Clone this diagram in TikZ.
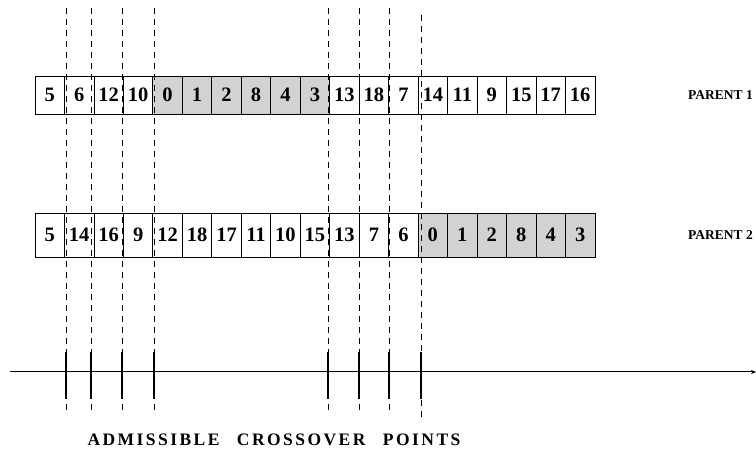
\documentclass[tikz,border=0pt]{standalone}
\usepackage{fontspec}
\setmainfont{Liberation Serif}
\newfontfamily\capsfont[LetterSpace=14]{Liberation Serif}
\usepackage{tikz}
\usetikzlibrary{arrows.meta}

\begin{document}
\begin{tikzpicture}[x=1pt, y=-1pt, >={Stealth[length=5pt, width=4pt]},
  cell/.style={draw, line width=0.8pt, minimum width=29.47pt, inner sep=0pt, font=\fontsize{20.5}{20.5}\selectfont\bfseries},
  hot/.style={cell, fill=gray!35},
  cut/.style={dash pattern=on 6pt off 5pt, line width=0.7pt},
  pin/.style={line width=1.2pt},
  tag/.style={anchor=west, inner sep=0pt, font=\fontsize{13.5}{13.5}\selectfont\bfseries}]
\clip (0,0) rectangle (756,454);
% parent 1
\foreach \v/\s [count=\i] in {5/cell,6/cell,12/cell,10/cell,0/hot,1/hot,2/hot,8/hot,4/hot,3/hot,13/cell,18/cell,7/cell,14/cell,11/cell,9/cell,15/cell,17/cell,16/cell}
  \node[\s, minimum height=38pt] (a\i) at ({35+29.47*(\i-0.5)},95) {\v};
% parent 2
\foreach \v/\s [count=\i] in {5/cell,14/cell,16/cell,9/cell,12/cell,18/cell,17/cell,11/cell,10/cell,15/cell,13/cell,7/cell,6/cell,0/hot,1/hot,2/hot,8/hot,4/hot,3/hot}
  \node[\s, minimum height=44pt] (b\i) at ({35+29.47*(\i-0.5)},235) {\v};
\node[tag] (par1) at (688,95) {PARENT 1};
\node[tag] (par2) at (688,235) {PARENT 2};
% crossover points
\foreach \x [count=\k] in {66,91,122,154,328,359,389} {
  \coordinate (u\k) at (\x,8);
  \coordinate (d\k) at (\x,412);
  \draw[cut] (u\k) -- (d\k);
  \draw[pin] (\x,352) -- (\x,399);
}
\coordinate (u8) at (421,15);
\coordinate (d8) at (421,419);
\draw[cut] (u8) -- (d8);
\draw[pin] (421,352) -- (421,399);
% axis
\coordinate (ax0) at (10,372);
\coordinate (ax1) at (756,372);
\draw[->, line width=1pt] (ax0) -- (ax1);
\node[anchor=west, font=\capsfont\fontsize{17.5}{17.5}\selectfont\bfseries] (pts) at (84,440) {ADMISSIBLE\quad CROSSOVER\quad POINTS};
\end{tikzpicture}
\end{document}
